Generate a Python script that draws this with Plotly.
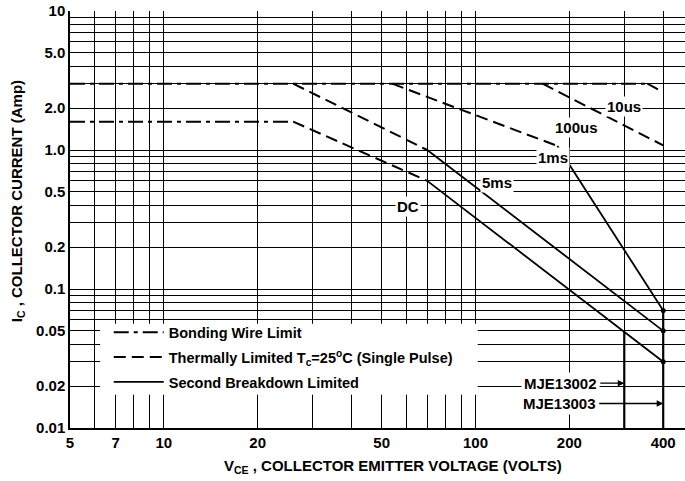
import math
import plotly.graph_objects as go

# ---------------- data ----------------
# Bonding wire limit segments (V_CE in volts, I_C in amps); None separates segments
bw_v = [5, 26, None, 5, 356]
bw_i = [1.6, 1.6, None, 3.0, 3.0]
# Thermally limited segments: DC, 5ms, 1ms, 100us, 10us
th_v = [26, 70, None, 26, 70, None, 54, 183, None, 164, 400, None, 356, 400]
th_i = [1.6, 0.6, None, 3.0, 1.0, None, 3.0, 1.07, None, 3.0, 1.08, None, 3.0, 2.6]
# Second breakdown limited segments: DC, 5ms, 1ms
sb_v = [70, 400, None, 70, 400, None, 183, 400]
sb_i = [0.6, 0.03, None, 1.0, 0.05, None, 1.07, 0.07]
# V_CEO limits of the two devices
devices = ["MJE13002", "MJE13003"]
vceo_v = [300, 300, None, 400, 400]
vceo_i = [0.049, 0.01, None, 0.07, 0.01]
# curve names
curve_names = ["10us", "100us", "1ms", "5ms", "DC"]

# axis grid / tick labels
x_grid = [5, 6, 7, 8, 9, 10, 20, 30, 40, 50, 60, 70, 80, 90, 100, 200, 300, 400]
x_labels = {5: "5", 7: "7", 10: "10", 20: "20", 50: "50", 100: "100", 200: "200", 400: "400"}
y_grid = sorted(set([round(m * 10 ** e, 4) for e in (-2, -1, 0) for m in range(1, 10)] + [10]))
y_labels = {10: "10", 5: "5.0", 2: "2.0", 1: "1.0", 0.5: "0.5", 0.2: "0.2", 0.1: "0.1",
            0.05: "0.05", 0.02: "0.02", 0.01: "0.01"}

FONT = "Liberation Sans, Arial, sans-serif"

fig = go.Figure()
fig.add_trace(go.Scatter(x=bw_v, y=bw_i, mode="lines", name="Bonding Wire Limit",
                         legendgroup="a",
                         line=dict(color="black", width=2, dash="15px,5px,4px,5px")))
fig.add_trace(go.Scatter(x=th_v, y=th_i, mode="lines",
                         name="Thermally Limited T<sub>c</sub>=25<sup>o</sup>C (Single Pulse)",
                         legendgroup="b",
                         line=dict(color="black", width=2, dash="12px,6px")))
fig.add_trace(go.Scatter(x=sb_v, y=sb_i, mode="lines", name="Second Breakdown Limited",
                         legendgroup="c",
                         line=dict(color="black", width=1.8)))
fig.add_trace(go.Scatter(x=vceo_v, y=vceo_i, mode="lines", showlegend=False,
                         line=dict(color="black", width=2.2)))
# end points at the V_CEO line
end_idx = [k for k, v in enumerate(sb_v) if v is not None and (k + 1 == len(sb_v) or sb_v[k + 1] is None)]
fig.add_trace(go.Scatter(x=[sb_v[k] for k in end_idx], y=[sb_i[k] for k in end_idx],
                         mode="markers", showlegend=False,
                         marker=dict(color="black", size=5)))

# curve labels
label_pos = {"10us": (300, 2.07), "100us": (211, 1.44), "1ms": (177, 0.89),
             "5ms": (117, 0.58), "DC": (60.5, 0.395)}
for name in curve_names:
    vx, iy = label_pos[name]
    fig.add_annotation(x=math.log10(vx), y=math.log10(iy), text=name, showarrow=False,
                       bgcolor="white", borderpad=1,
                       font=dict(family=FONT, size=15, color="black", weight="bold"))

# device arrows
arrow_pos = [(300, 0.021, -24), (400, 0.015, -64)]
for dev, (vx, iy, ax) in zip(devices, arrow_pos):
    fig.add_annotation(x=math.log10(vx), y=math.log10(iy), text=dev, showarrow=True,
                       ax=ax, ay=0, xanchor="right", arrowhead=2, arrowsize=1,
                       arrowwidth=1.3, arrowcolor="black", bgcolor="white", borderpad=2,
                       font=dict(family=FONT, size=15, color="black", weight="bold"))

# axis titles
fig.add_annotation(xref="paper", yref="paper", x=0.525, y=-0.093,
                   xanchor="center", yanchor="middle",
                   text="V<sub>CE</sub> , COLLECTOR EMITTER VOLTAGE (VOLTS)", showarrow=False,
                   font=dict(family=FONT, size=15, color="black", weight="bold"))
fig.add_annotation(xref="paper", yref="paper", x=-0.086, y=0.544, textangle=-90,
                   xanchor="center", yanchor="middle",
                   text="I<sub>C</sub> , COLLECTOR CURRENT (Amp)", showarrow=False,
                   font=dict(family=FONT, size=15, color="black", weight="bold"))

# white area behind the legend (covers the grid; no data lies in this region)
fig.add_shape(type="rect", xref="paper", yref="paper", x0=0.049, x1=0.663, y0=0.080, y1=0.250,
              fillcolor="white", line=dict(width=0), layer="above")

axis_common = dict(type="log", showgrid=True, gridcolor="black", gridwidth=1.2,
                   showline=True, linecolor="black", linewidth=1.5, ticks="",
                   zeroline=False,
                   tickfont=dict(family=FONT, size=15, color="black", weight="bold"))
fig.update_xaxes(range=[math.log10(5), 2.672], tickvals=x_grid,
                 ticktext=[x_labels.get(v, "") for v in x_grid], **axis_common)
fig.update_yaxes(range=[-2, 1], tickvals=y_grid,
                 ticktext=[y_labels.get(v, "") for v in y_grid], **axis_common)

fig.update_layout(
    width=685, height=481, autosize=False,
    margin=dict(l=70, r=0, t=11, b=53),
    paper_bgcolor="white", plot_bgcolor="white",
    legend=dict(x=0.063, y=0.268, xanchor="left", yanchor="top", bgcolor="rgba(0,0,0,0)",
                itemwidth=50, borderwidth=0, traceorder="grouped", tracegroupgap=3,
                font=dict(family=FONT, size=14.5, color="black", weight="bold")),
)

fig.write_html("out.html", config={"displayModeBar": False},
               post_script="document.body.style.margin='0px';")
